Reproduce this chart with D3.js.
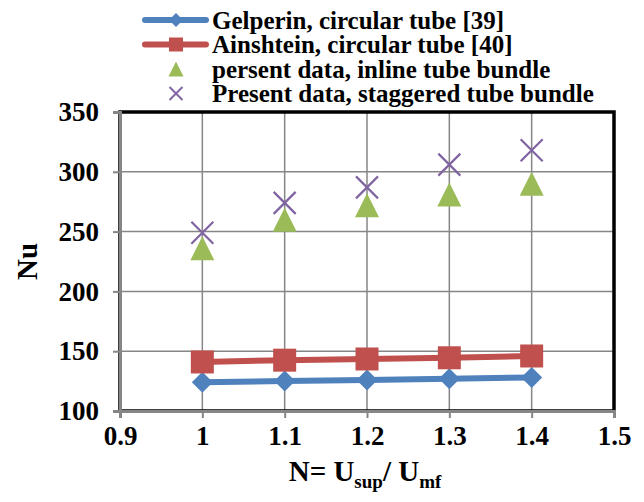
<!DOCTYPE html>
<html>
<head>
<meta charset="utf-8">
<script src="https://cdn.jsdelivr.net/npm/d3@7"></script>
<style>
  html, body { margin: 0; padding: 0; background: #fff; }
  svg { display: block; font-family: 'Liberation Serif', 'Times New Roman', serif; font-weight: bold; }
</style>
</head>
<body>
<div id="chart"></div>
<script>
// values
const ratios = [1, 1.1, 1.2, 1.3, 1.4];
const gelperin = [124, 125, 126, 127, 128];
const ainshtein = [141, 142.5, 143.5, 144.5, 146];
const inlineData = [236, 260, 272, 281, 290];
const staggeredData = [249, 274, 287, 306, 318];

const xTicks = [0.9, 1, 1.1, 1.2, 1.3, 1.4, 1.5];
const yTicks = [100, 150, 200, 250, 300, 350];

const seriesNames = [
  'Gelperin, circular tube [39]',
  'Ainshtein, circular tube [40]',
  'persent data, inline tube bundle',
  'Present data, staggered tube bundle'
];

const BLUE = '#4F81BD', RED = '#C0504D', GREEN = '#9BBB59', PURPLE = '#8064A2';
const GRID = '#868686';
const SERIF = "'Liberation Serif', 'Times New Roman', serif";

const width = 644, height = 502;
const plot = { left: 120, right: 614, top: 112, bottom: 411 };

const svg = d3.select('#chart').append('svg')
  .attr('width', width).attr('height', height);

const x = d3.scaleLinear().domain([0.9, 1.5]).range([plot.left, plot.right]);
const y = d3.scaleLinear().domain([100, 350]).range([plot.bottom, plot.top]);

// grid
svg.append('g').selectAll('line').data(xTicks.slice(1, -1)).join('line')
  .attr('x1', d => x(d)).attr('x2', d => x(d))
  .attr('y1', plot.top).attr('y2', plot.bottom)
  .attr('stroke', GRID).attr('stroke-width', 1.5);
svg.append('g').selectAll('line').data(yTicks.slice(1, -1)).join('line')
  .attr('x1', plot.left).attr('x2', plot.right)
  .attr('y1', d => y(d)).attr('y2', d => y(d))
  .attr('stroke', GRID).attr('stroke-width', 1.5);

// black frame
svg.append('rect')
  .attr('x', plot.left).attr('y', plot.top)
  .attr('width', plot.right - plot.left).attr('height', plot.bottom - plot.top)
  .attr('fill', 'none').attr('stroke', '#000').attr('stroke-width', 3.5);

// axes
const xAxis = svg.append('g').attr('transform', `translate(0,${plot.bottom})`)
  .call(d3.axisBottom(x).tickValues(xTicks).tickSize(7).tickPadding(8)
    .tickFormat(d => d3.format('')(+d.toFixed(1))));
const yAxis = svg.append('g').attr('transform', `translate(${plot.left},0)`)
  .call(d3.axisLeft(y).tickValues(yTicks).tickSize(7).tickPadding(14));

[xAxis, yAxis].forEach(g => {
  g.attr('font-family', SERIF).attr('font-size', 27).attr('font-weight', 'bold');
  g.select('.domain').attr('stroke', GRID).attr('stroke-width', 3);
  g.selectAll('.tick line').attr('stroke', GRID).attr('stroke-width', 2);
  g.selectAll('.tick text').attr('fill', '#000');
});

// axis titles
svg.append('text')
  .attr('transform', `translate(37,${(plot.top + plot.bottom) / 2}) rotate(-90)`)
  .attr('text-anchor', 'middle')
  .style('font-size', '29px')
  .text('Nu');

const xt = svg.append('text')
  .attr('x', x(1.2) - 2).attr('y', 481)
  .attr('text-anchor', 'middle')
  .style('font-size', '29px');
xt.append('tspan').text('N= U');
xt.append('tspan').attr('dy', 7).style('font-size', '19px').text('sup');
xt.append('tspan').attr('dy', -7).text('/ U');
xt.append('tspan').attr('dy', 7).style('font-size', '19px').text('mf');

// series lines
const line = d3.line().x((d, i) => x(ratios[i])).y(d => y(d));

svg.append('path').datum(gelperin).attr('d', line)
  .attr('fill', 'none').attr('stroke', BLUE).attr('stroke-width', 6)
  .attr('stroke-linecap', 'round');
svg.append('path').datum(ainshtein).attr('d', line)
  .attr('fill', 'none').attr('stroke', RED).attr('stroke-width', 6)
  .attr('stroke-linecap', 'round');

// markers
const diamond = s => `M0,${-s}L${s},0L0,${s}L${-s},0Z`;
const triangle = s => `M0,${-s}L${s},${s}L${-s},${s}Z`;
const cross = s => `M${-s},${-s}L${s},${s}M${-s},${s}L${s},${-s}`;

svg.append('g').selectAll('path').data(gelperin).join('path')
  .attr('transform', (d, i) => `translate(${x(ratios[i])},${y(d)})`)
  .attr('d', diamond(10.5)).attr('fill', BLUE);

svg.append('g').selectAll('rect').data(ainshtein).join('rect')
  .attr('x', (d, i) => x(ratios[i]) - 11.5).attr('y', d => y(d) - 11.5)
  .attr('width', 23).attr('height', 23).attr('fill', RED);

svg.append('g').selectAll('path').data(inlineData).join('path')
  .attr('transform', (d, i) => `translate(${x(ratios[i])},${y(d)})`)
  .attr('d', triangle(12)).attr('fill', GREEN);

svg.append('g').selectAll('path').data(staggeredData).join('path')
  .attr('transform', (d, i) => `translate(${x(ratios[i])},${y(d)})`)
  .attr('d', cross(11)).attr('fill', 'none')
  .attr('stroke', PURPLE).attr('stroke-width', 2.2);

// legend
const legend = svg.append('g');
const rowY = [20, 44.5, 69, 93.5];
const legendKeys = [
  g => {
    g.append('line').attr('x1', 145).attr('x2', 206).attr('stroke', BLUE)
      .attr('stroke-width', 6).attr('stroke-linecap', 'round');
    g.append('path').attr('transform', 'translate(176,0)').attr('d', diamond(7)).attr('fill', BLUE);
  },
  g => {
    g.append('line').attr('x1', 145).attr('x2', 206).attr('stroke', RED)
      .attr('stroke-width', 6).attr('stroke-linecap', 'round');
    g.append('rect').attr('x', 169).attr('y', -7).attr('width', 14).attr('height', 14).attr('fill', RED);
  },
  g => {
    g.append('path').attr('transform', 'translate(176,0)').attr('d', triangle(7.5)).attr('fill', GREEN);
  },
  g => {
    g.append('path').attr('transform', 'translate(176,0)').attr('d', cross(6.5))
      .attr('fill', 'none').attr('stroke', PURPLE).attr('stroke-width', 2);
  }
];

seriesNames.forEach((name, i) => {
  const g = legend.append('g').attr('transform', `translate(0,${rowY[i]})`);
  legendKeys[i](g);
  g.append('text').attr('x', 212).attr('dy', '0.35em')
    .style('font-size', '25px').text(name);
});
</script>
</body>
</html>
